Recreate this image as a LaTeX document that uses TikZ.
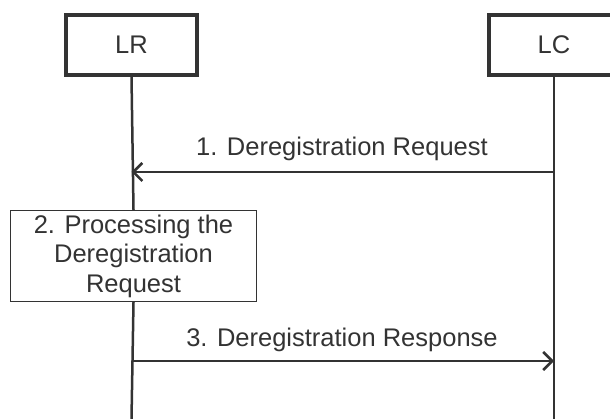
\documentclass[tikz,border=0pt]{standalone}
\usepackage{fontspec}
\setmainfont{Liberation Sans}
\usetikzlibrary{arrows.meta}
\definecolor{ink}{HTML}{333333}
\begin{document}
\begin{tikzpicture}[x=1pt,y=-1pt,
  every node/.style={text=ink, font=\fontsize{25.5}{29}\selectfont},
  actor/.style={draw=ink, line width=4pt, minimum width=131pt, minimum height=60pt, inner sep=0pt},
  procbox/.style={draw=ink, line width=1.3pt, minimum width=246pt, minimum height=91pt, inner sep=0pt, align=center, font=\fontsize{25.5}{29.5}\selectfont},
  life/.style={draw=ink, line width=2.5pt},
  msg/.style={draw=ink, line width=2.5pt, -{Straight Barb[length=9pt, width=18pt, line width=2.5pt]}},
  lbl/.style={inner sep=0pt}]
\useasboundingbox (0,0) rectangle (610,419);
\node[actor] (LR) at (131.5,45) {LR};
\node[actor] (LC) at (554,45) {LC};
\node[procbox, fill=white] (P) at (133.5,256) {2. Processing the\\Deregistration\\Request};
\coordinate (LRend) at (LR.south |- 0,419);
\coordinate (LCend) at (LC.south |- 0,419);
\coordinate (m1s) at (LC.south |- 0,172);
\coordinate (m1e) at (LR.south |- 0,172);
\coordinate (m3s) at (LR.south |- 0,361);
\coordinate (m3e) at (LC.south |- 0,361);
\draw[life] (LR.south) -- (P.north);
\draw[life] (P.south) -- (LRend);
\draw[life] (LC.south) -- (LCend);
\draw[msg] (m1s) -- (m1e);
\draw[msg] (m3s) -- (m3e);
\node[lbl] (t1) at (342,149) {1. Deregistration Request};
\node[lbl] (t3) at (342,340) {3. Deregistration Response};
\end{tikzpicture}
\end{document}
